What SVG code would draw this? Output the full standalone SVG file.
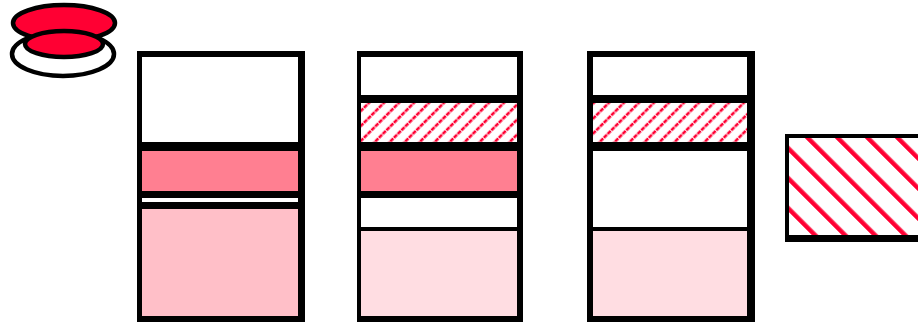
<svg xmlns="http://www.w3.org/2000/svg" width="918" height="322" viewBox="0 0 918 322">
<style>
.frame{fill:#000}
.w{fill:#fff}
.pk{fill:#ff7f91}
.lp1{fill:#ffbfc8}
.lp{fill:#ffdde2}
.hs{fill:url(#hatchS)}
.hb{fill:url(#hatchB)}
.ic{stroke:#000;stroke-width:4.5}
</style>
<defs>
<pattern id="hatchS" patternUnits="userSpaceOnUse" width="10.6" height="10.6" patternTransform="rotate(45)">
<rect width="10.6" height="10.6" fill="#fff"/>
<line x1="5" y1="0" x2="5" y2="10.6" stroke="#ff0033" stroke-width="2.6" stroke-dasharray="4.3 1"/>
</pattern>
<pattern id="hatchB" patternUnits="userSpaceOnUse" width="21.21" height="21.21" patternTransform="rotate(-45)">
<rect width="21.21" height="21.21" fill="#fff"/>
<line x1="7.07" y1="0" x2="7.07" y2="21.21" stroke="#ff0033" stroke-width="4.5"/>
</pattern>
</defs>
<g id="icon">
<ellipse class="ic" cx="63" cy="54" rx="51" ry="22" fill="#fff"/>
<ellipse class="ic" cx="64" cy="23" rx="51" ry="18" fill="#ff0033"/>
<ellipse class="ic" cx="64" cy="44" rx="39" ry="13" fill="#ff0033"/>
</g>
<g id="column1">
<rect class="frame" x="137" y="51" width="168" height="275"/>
<rect class="w" x="142" y="57" width="156" height="85"/>
<rect class="pk" x="142" y="151" width="156" height="40"/>
<rect class="w" x="142" y="198" width="156" height="4"/>
<rect class="lp1" x="142" y="209" width="156" height="107"/>
</g>
<g id="column2">
<rect class="frame" x="357" y="51" width="166" height="275"/>
<rect class="w" x="361" y="57" width="156" height="38"/>
<rect class="hs" x="361" y="103" width="156" height="39"/>
<rect class="pk" x="361" y="151" width="156" height="40"/>
<rect class="w" x="361" y="198" width="156" height="29"/>
<rect class="lp" x="361" y="231" width="156" height="85"/>
</g>
<g id="column3">
<rect class="frame" x="587" y="51" width="168" height="275"/>
<rect class="w" x="593" y="57" width="154" height="38"/>
<rect class="hs" x="593" y="103" width="154" height="39"/>
<rect class="w" x="593" y="151" width="154" height="76"/>
<rect class="lp" x="593" y="231" width="154" height="85"/>
</g>
<g id="hatchbox">
<rect class="frame" x="785" y="134" width="140" height="108"/>
<rect class="hb" x="789" y="138" width="140" height="97"/>
</g>
<g id="connectors"></g>
</svg>
